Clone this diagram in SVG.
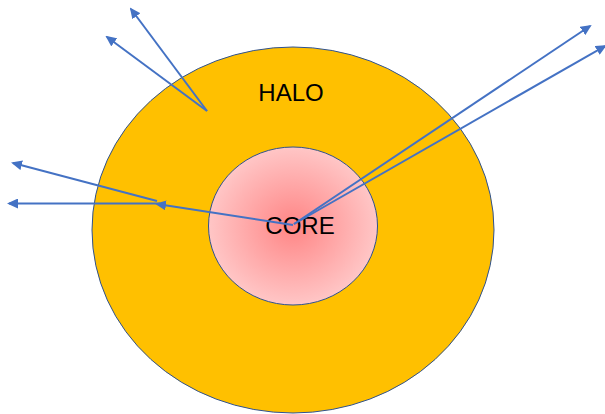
<svg xmlns="http://www.w3.org/2000/svg" width="605" height="414" viewBox="0 0 605 414">
<style>
.conn{stroke:#4472C4;stroke-width:2;fill:none;marker-end:url(#ah)}
.lbl{font-family:"Liberation Sans",Arial,sans-serif;font-size:24px;fill:#000;text-anchor:middle}
</style>
<defs>
<marker id="ah" markerUnits="userSpaceOnUse" markerWidth="11" markerHeight="10" refX="9" refY="5" orient="auto" viewBox="0 0 11 10">
<path d="M0,0 L11,5 L0,10 z" fill="#4472C4"/>
</marker>
<radialGradient id="cg" cx="50%" cy="50%" r="50%">
<stop offset="0" stop-color="#FF8585"/>
<stop offset="1" stop-color="#FFC6C6"/>
</radialGradient>
</defs>
<rect width="605" height="414" fill="#fff"/>
<g id="halo">
<ellipse cx="293" cy="230" rx="201" ry="183" fill="#FFC000" stroke="#2F528F" stroke-width="1"/>
<text class="lbl" x="291" y="101">HALO</text>
</g>
<g id="core">
<ellipse cx="293" cy="226" rx="84.5" ry="79" fill="url(#cg)" stroke="#2F528F" stroke-width="1"/>
<text class="lbl" x="300" y="234">CORE</text>
</g>
<g id="connectors">
<line class="conn" x1="207" y1="111" x2="131" y2="9"/>
<line class="conn" x1="207" y1="111" x2="107" y2="37"/>
<line class="conn" x1="293" y1="225" x2="157" y2="204"/>
<line class="conn" x1="157" y1="201" x2="13" y2="163"/>
<line class="conn" x1="160" y1="203.5" x2="9" y2="203.5"/>
<line class="conn" x1="294" y1="224" x2="590" y2="26"/>
<line class="conn" x1="294" y1="224" x2="605" y2="46"/>
</g>
</svg>
